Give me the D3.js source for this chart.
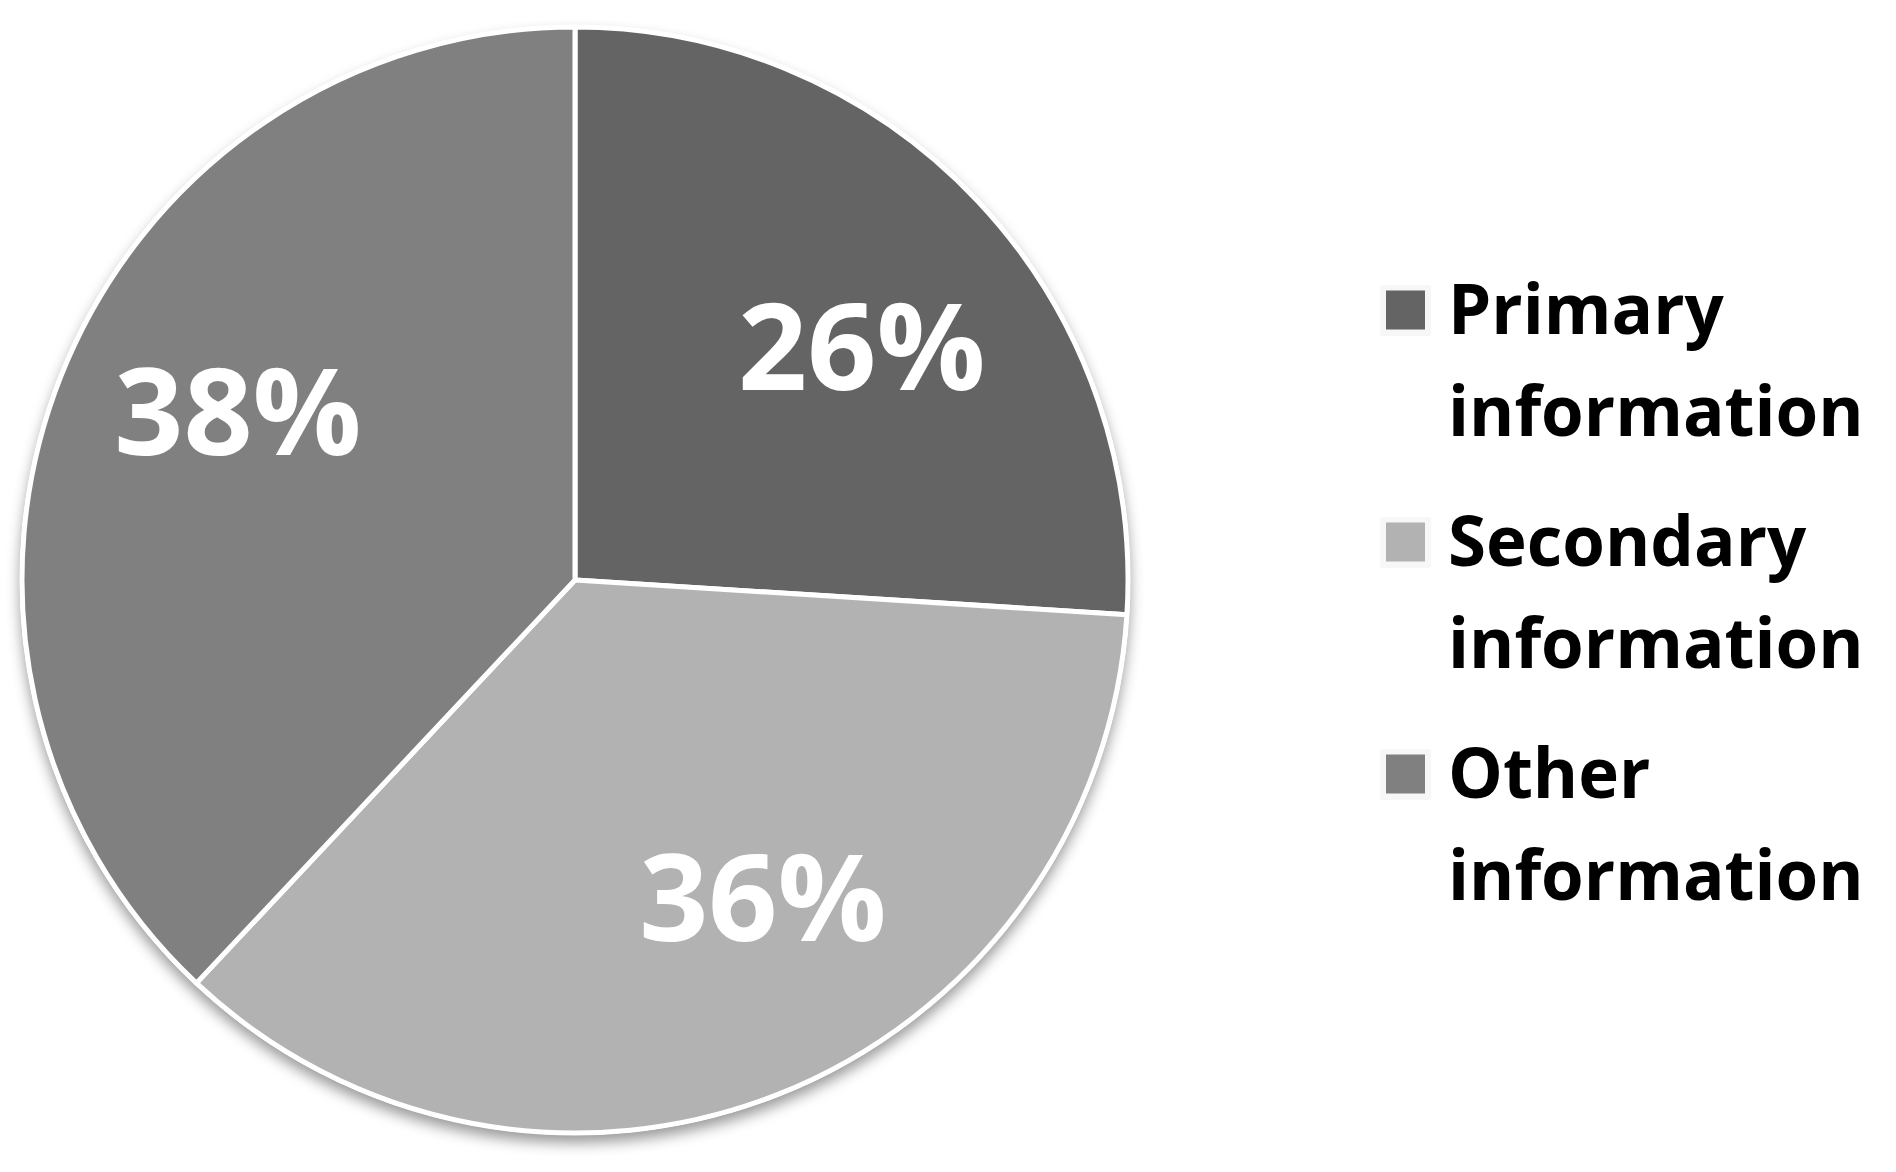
<!DOCTYPE html>
<html lang="en">
<head>
<meta charset="utf-8">
<title>information pie</title>
<script src="https://cdn.jsdelivr.net/npm/d3@7"></script>
<style>
  html, body { margin: 0; padding: 0; background: #ffffff; }
  svg { display: block; }
</style>
</head>
<body>
<script>

// data
var categories = ["Primary information", "Secondary information", "Other information"];
var values = [26, 36, 38];
var legendLines = [["Primary", "information"], ["Secondary", "information"], ["Other", "information"]];
var sliceColors = ["#646464", "#b2b2b2", "#808080"];

var width = 1896, height = 1172;
var cx = 575, cy = 580, radius = 553;

// small angle nudges (degrees) so labels sit where the original put them
var labelShift = [4, -9, 5];
var labelRadius = [370, 369, 377];

var svg = d3.select("body").append("svg")
    .attr("width", width)
    .attr("height", height);

var defs = svg.append("defs");
var shadow = defs.append("filter")
    .attr("id", "shadow")
    .attr("x", "-10%").attr("y", "-10%")
    .attr("width", "120%").attr("height", "125%");
shadow.append("feDropShadow")
    .attr("dx", 0).attr("dy", 8)
    .attr("stdDeviation", 7)
    .attr("flood-color", "#000")
    .attr("flood-opacity", 0.4);

var pie = d3.pie().sort(null).value(function(d) { return d; });
var arcs = pie(values);

var arc = d3.arc().innerRadius(0).outerRadius(radius);

var g = svg.append("g").attr("transform", "translate(" + cx + "," + cy + ")");

// shadow layer under the whole disc
g.append("circle")
    .attr("r", radius + 2)
    .attr("fill", "#ffffff")
    .attr("filter", "url(#shadow)");

g.selectAll("path.slice")
    .data(arcs)
    .enter()
    .append("path")
    .attr("class", "slice")
    .attr("d", arc)
    .attr("fill", function(d, i) { return sliceColors[i]; })
    .attr("stroke", "#ffffff")
    .attr("stroke-width", 5)
    .attr("stroke-linejoin", "round");

var fmt = function(v) { return v + "%"; };
var total = d3.sum(values);

g.selectAll("text.pct")
    .data(arcs)
    .enter()
    .append("text")
    .attr("class", "pct")
    .attr("transform", function(d, i) {
        var a = (d.startAngle + d.endAngle) / 2 + labelShift[i] * Math.PI / 180;
        var r = labelRadius[i];
        return "translate(" + (Math.sin(a) * r) + "," + (-Math.cos(a) * r) + ")";
    })
    .attr("text-anchor", "middle")
    .attr("dy", "0.36em")
    .attr("fill", "#ffffff")
    .style("font-family", "'Open Sans', 'DejaVu Sans', sans-serif")
    .style("font-weight", 700)
    .style("font-size", "121px")
    .text(function(d) { return fmt(Math.round(d.value / total * 100)); });

// legend
var legendY = d3.scalePoint().domain(categories).range([310, 774]);
var legend = svg.append("g");

var items = legend.selectAll("g.item")
    .data(categories)
    .enter()
    .append("g")
    .attr("class", "item")
    .attr("transform", function(d) { return "translate(1386," + legendY(d) + ")"; });

items.append("rect")
    .attr("x", -6).attr("y", -25)
    .attr("width", 51).attr("height", 51)
    .attr("rx", 3)
    .attr("fill", "#f7f7f7");

items.append("rect")
    .attr("x", 0).attr("y", -19.5)
    .attr("width", 39).attr("height", 39)
    .attr("fill", function(d, i) { return sliceColors[i]; });

items.append("text")
    .attr("x", 62)
    .attr("y", 24)
    .attr("fill", "#000000")
    .style("font-family", "'Open Sans', 'DejaVu Sans', sans-serif")
    .style("font-weight", 700)
    .style("font-size", "69px")
    .selectAll("tspan")
    .data(function(d, i) { return legendLines[i]; })
    .enter()
    .append("tspan")
    .attr("x", 62)
    .attr("dy", function(d, j) { return j === 0 ? 0 : 102; })
    .text(function(d) { return d; });

</script>
</body>
</html>
